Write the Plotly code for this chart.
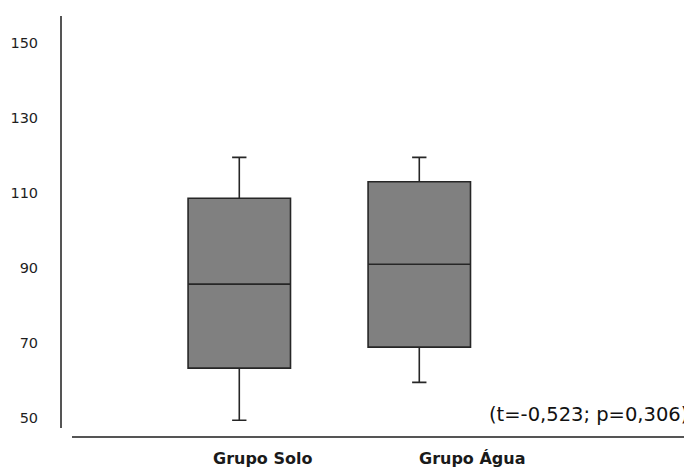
import plotly.graph_objects as go

groups = ["Grupo Solo", "Grupo Água"]
q1 = [63.3, 68.9]
median = [85.7, 91.0]
q3 = [108.6, 113.0]
lowerfence = [49.4, 59.5]
upperfence = [119.5, 119.5]
y_ticks = [50, 70, 90, 110, 130, 150]
stat_text = "(t=-0,523; p=0,306)"

fig = go.Figure()
fig.add_trace(go.Box(
    x=groups, q1=q1, median=median, q3=q3,
    lowerfence=lowerfence, upperfence=upperfence,
    fillcolor="#808080",
    line=dict(color="#262626", width=1.6),
    width=0.569, whiskerwidth=0.14,
    boxpoints=False, showlegend=False, hoverinfo="skip",
))

# page body has an 8px margin; figure sized so it fits the 692x467 window
W, H = 684, 459
ml, mr, mt, mb = 53, 0, 8, 30
pw = W - ml - mr
ph = H - mt - mb

fig.update_layout(
    width=W, height=H,
    margin=dict(l=ml, r=mr, t=mt, b=mb, pad=0),
    paper_bgcolor="white", plot_bgcolor="white",
    xaxis=dict(
        type="category", categoryorder="array", categoryarray=groups,
        domain=[10.7 / pw, 1], anchor="free", position=0,
        range=[-0.931, 2.515],
        showline=True, linecolor="#555555", linewidth=2,
        showgrid=False, zeroline=False, showticklabels=False, ticks="",
        automargin=False,
    ),
    yaxis=dict(
        domain=[9 / ph, 1], anchor="free", position=0,
        range=[47.33, 157.2],
        tickmode="array", tickvals=y_ticks, ticktext=[str(v) for v in y_ticks],
        showline=True, linecolor="#555555", linewidth=2,
        showgrid=False, zeroline=False, ticks="",
        ticklabelstandoff=19, automargin=False,
        tickfont=dict(family="DejaVu Sans", size=14.5, color="#1e1e1e"),
    ),
)

shifts = [23.2, 52.4]
for g, s in zip(groups, shifts):
    fig.add_annotation(
        x=g, xref="x", y=0, yref="paper", yanchor="middle", yshift=-21,
        xshift=s, text=g, showarrow=False,
        font=dict(family="DejaVu Sans", size=16, color="#1a1a1a", weight="bold"),
    )

fig.add_annotation(
    x=1, xref="paper", y=50.9, yref="y", xanchor="right", yanchor="middle",
    xshift=-2, text=stat_text, showarrow=False,
    font=dict(family="DejaVu Sans", size=19.5, color="#111111"),
)

fig.write_html("out.html")
